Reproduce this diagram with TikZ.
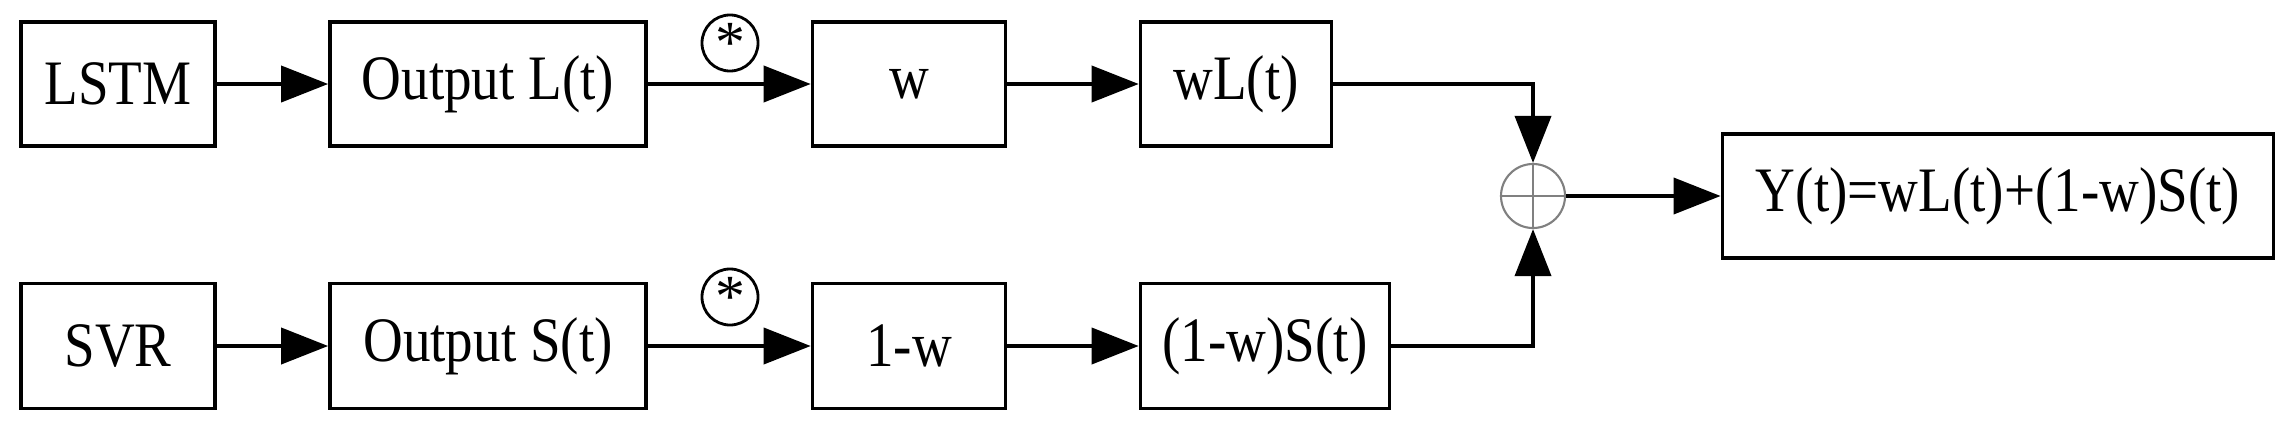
\documentclass[tikz,border=0pt]{standalone}
\usepackage{fontspec}
\setmainfont{Liberation Serif}
\usetikzlibrary{arrows.meta}
\newcommand\nar[1]{\scalebox{0.87}[1]{#1}}
\begin{document}
\begin{tikzpicture}[x=0.01cm,y=-0.01cm,
  box/.style={draw,line width=1pt,inner sep=0pt,font=\fontsize{18}{20}\selectfont},
  conn/.style={line width=1.1pt,-{Triangle[length=0.47cm,width=0.36cm]}},
  star/.style={draw,circle,line width=0.8pt,minimum size=0.56cm,inner sep=0pt,font=\fontsize{17}{17}\selectfont}]
\useasboundingbox (0,0) rectangle (2286,424);
\node[box,minimum width=1.94cm,minimum height=1.24cm] (lstm) at (118,84) {\nar{LSTM}};
\node[box,minimum width=3.16cm,minimum height=1.24cm] (ol) at (488,84) {\nar{Output L(t)}};
\node[box,minimum width=1.93cm,minimum height=1.24cm] (w) at (909,84) {\nar{w}};
\node[box,minimum width=1.91cm,minimum height=1.24cm] (wl) at (1236,84) {\nar{wL(t)}};
\node[box,minimum width=1.94cm,minimum height=1.25cm] (svr) at (118,346) {\nar{SVR}};
\node[box,minimum width=3.16cm,minimum height=1.25cm] (os) at (488,346) {\nar{Output S(t)}};
\node[box,minimum width=1.93cm,minimum height=1.25cm] (w1) at (909,346) {\nar{1-w}};
\node[box,minimum width=2.49cm,minimum height=1.25cm] (ws) at (1265,346) {\nar{(1-w)S(t)}};
\node[box,minimum width=5.51cm,minimum height=1.24cm] (y) at (1998,196) {\nar{Y(t)=wL(t)+(1-w)S(t)}};
\node[draw=gray,line width=0.6pt,circle,minimum size=0.64cm,inner sep=0pt] (sum) at (1533,196) {};
\draw[gray,line width=0.6pt] (sum.north) -- (sum.south) (sum.west) -- (sum.east);
\node[star] (s1) at (730,43) {*};
\node[star] (s2) at (730,297) {*};
\draw[conn] (lstm) -- (ol);
\draw[conn] (ol) -- (w);
\draw[conn] (w) -- (wl);
\draw[conn] (svr) -- (os);
\draw[conn] (os) -- (w1);
\draw[conn] (w1) -- (ws);
\draw[conn] (wl.east) -| (sum.north);
\draw[conn] (ws.east) -| (sum.south);
\draw[conn] (sum) -- (y);
\end{tikzpicture}
\end{document}
